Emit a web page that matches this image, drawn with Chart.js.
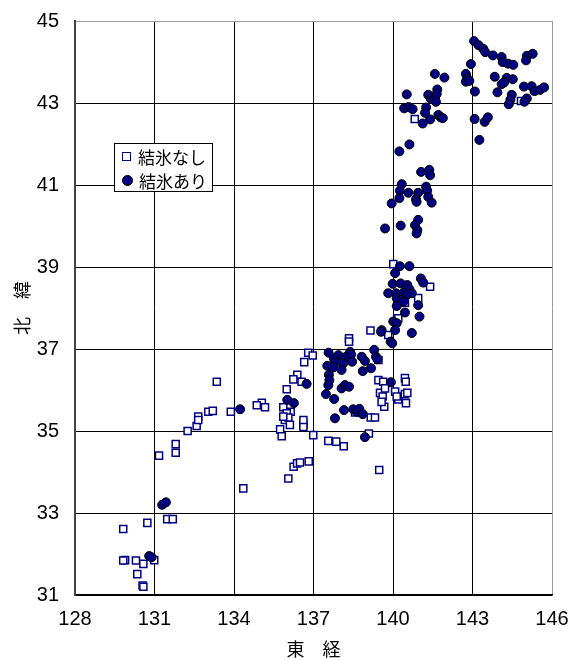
<!DOCTYPE html>
<html>
<head>
<meta charset="utf-8">
<script src="https://cdn.jsdelivr.net/npm/chart.js@4.4.1/dist/chart.umd.min.js"></script>
<style>
  body { margin: 0; background: #fff; }
  #wrap { position: relative; width: 570px; height: 660px; }
  #legend {
    position: absolute; left: 114px; top: 143px; width: 97px; height: 47px;
    border: 1px solid #000; background: #fff;
    font-family: "Noto Sans CJK JP", sans-serif; font-size: 17px; color: #000;
  }
  .row { display: flex; align-items: center; height: 24px; padding-left: 7px; }
  .sq { width: 7px; height: 7px; border: 1.5px solid #000080; background: #fff; margin-right: 7px; }
  .ci { width: 9px; height: 9px; border-radius: 50%; background: #000080; border: 1px solid #000; margin-right: 6px; }
</style>
</head>
<body>
<div id="wrap">
  <canvas id="ice-chart" width="570" height="660"></canvas>
  <div id="legend">
    <div class="row"><span class="sq"></span>結氷なし</div>
    <div class="row"><span class="ci"></span>結氷あり</div>
  </div>
</div>
<script>
// 結氷あり (iced) stations
const iceLon = [143.06,143.23,143.41,143.48,143.77,144.10,144.14,144.34,144.54,145.05,145.27,145.02,142.94,142.75,142.80,142.75,142.88,143.09,143.84,144.29,144.52,144.10,144.19,143.94,144.48,144.43,144.37,144.94,145.23,145.34,145.55,145.70,145.05,144.96,143.08,143.46,143.58,143.26,
  141.58,141.94,140.52,140.42,140.59,140.74,141.33,141.42,141.58,141.67,141.65,141.62,141.25,141.21,141.40,141.71,141.80,141.88,141.12,140.62,140.24,
  141.06,141.37,141.40,140.33,140.26,140.58,140.95,141.25,141.29,141.33,141.46,140.87,140.89,140.24,139.95,139.70,140.29,140.95,140.83,140.92,140.89,
  140.26,140.62,140.08,141.05,141.14,139.99,140.29,140.54,140.62,139.82,140.11,140.39,140.52,140.71,140.14,140.33,140.95,140.14,140.39,140.45,141.00,140.01,140.14,140.08,139.57,140.71,139.91,139.97,139.55,
  137.57,137.94,137.77,138.23,138.38,138.42,138.46,138.82,138.94,139.29,139.36,139.41,138.12,137.81,137.52,137.75,138.06,137.58,137.60,138.86,139.17,137.56,138.06,138.19,138.34,137.47,137.78,138.15,138.50,138.63,138.73,138.86,137.81,138.94,139.92,136.74,136.01,136.26,134.23,131.29,131.43,130.80,130.89];
const iceLat = [44.51,44.41,44.32,44.24,44.16,44.12,44.00,43.96,43.93,44.15,44.20,44.04,43.95,43.71,43.60,43.52,43.54,43.28,43.64,43.61,43.58,43.46,43.50,43.26,43.20,43.08,42.97,43.40,43.41,43.29,43.32,43.38,43.11,43.03,42.61,42.54,42.65,42.10,
  43.71,43.62,43.21,42.87,42.90,42.85,43.20,43.11,43.10,43.33,43.22,43.03,42.89,42.76,42.60,42.71,42.65,42.63,42.50,41.99,41.82,
  41.32,41.37,41.24,41.02,40.86,40.81,40.81,40.96,40.86,40.71,40.57,40.65,40.59,40.68,40.55,39.94,40.01,40.15,40.02,39.90,39.82,
  39.02,39.02,38.85,38.72,38.62,38.59,38.60,38.56,38.46,38.36,38.36,38.37,38.32,38.36,38.24,38.20,38.07,38.05,38.15,37.89,37.79,37.67,37.63,37.46,37.46,37.39,37.18,37.14,37.42,
  36.91,36.85,36.77,36.81,36.93,36.87,36.69,36.81,36.71,36.98,36.81,36.75,36.65,36.67,36.59,36.55,36.49,36.37,36.24,36.46,36.53,36.12,36.04,36.12,36.08,35.90,35.78,35.51,35.53,35.47,35.54,35.41,35.31,34.85,36.19,36.15,35.76,35.68,35.53,33.20,33.26,31.95,31.92];

// 結氷なし (not iced) stations
const noIceLon = [144.83,140.82,140.01,141.40,140.45,140.95,140.20,139.15,139.82,138.34,138.34,139.45,136.80,136.97,136.65,136.39,136.24,136.55,135.99,133.35,
  139.45,139.63,140.45,140.48,139.51,139.70,139.61,139.67,139.57,140.08,140.20,140.14,140.45,140.54,140.49,139.48,138.57,139.16,139.32,139.09,
  135.86,136.14,135.99,135.92,136.11,135.74,135.80,136.62,136.62,136.99,137.56,137.86,138.14,136.25,136.38,136.49,136.82,136.05,135.05,135.17,134.86,136.05,135.86,136.62,
  133.88,133.03,133.20,132.65,132.25,132.59,132.65,131.80,131.80,131.17,134.35,131.48,131.69,130.73,129.82,129.89,129.82,130.30,130.58,130.99,130.35,130.55,130.58];
const noIceLat = [43.05,42.61,39.07,38.52,38.13,38.24,37.75,37.45,37.34,37.26,37.18,36.73,36.91,36.84,36.68,36.37,36.26,36.20,36.02,36.20,
  36.24,36.20,36.29,36.20,35.93,36.04,35.84,35.59,35.71,35.96,35.77,35.84,35.90,35.93,35.68,34.05,35.45,35.33,35.33,34.94,
  35.58,35.47,35.43,35.27,35.15,35.04,34.87,35.16,35.10,34.90,34.76,34.74,34.63,34.13,34.21,34.23,34.26,33.84,35.69,35.58,35.63,35.33,35.35,35.27,
  35.47,35.47,35.49,35.35,35.00,35.12,35.27,34.68,34.47,34.40,33.60,32.85,32.85,32.76,32.61,31.85,31.84,31.84,31.76,31.85,31.51,31.23,31.20];

// axis ranges / ticks
const lonTicks = [128, 131, 134, 137, 140, 143, 146];
const latTicks = [31, 33, 35, 37, 39, 41, 43, 45];

const toPoints = (xs, ys) => xs.map((x, i) => ({ x: x, y: ys[i] }));

const ctx = document.getElementById('ice-chart').getContext('2d');
const iceChart = new Chart(ctx, {
  type: 'scatter',
  data: {
    datasets: [{
      label: '結氷あり',
      data: toPoints(iceLon, iceLat),
      pointStyle: 'circle',
      pointRadius: 4.5,
      pointHoverRadius: 4.5,
      backgroundColor: '#000080',
      borderColor: '#000000',
      borderWidth: 1,
      order: 1
    }, {
      label: '結氷なし',
      data: toPoints(noIceLon, noIceLat),
      pointStyle: 'rect',
      pointRadius: 5,
      pointHoverRadius: 5,
      backgroundColor: '#ffffff',
      borderColor: '#000080',
      borderWidth: 1.5,
      order: 2
    }]
  },
  options: {
    responsive: false,
    devicePixelRatio: 1,
    animation: false,
    layout: { padding: { top: 21, right: 18 } },
    plugins: {
      legend: { display: false },
      tooltip: { enabled: false }
    },
    scales: {
      x: {
        type: 'linear',
        min: lonTicks[0],
        max: lonTicks[lonTicks.length - 1],
        afterBuildTicks: s => { s.ticks = lonTicks.map(v => ({ value: v })); },
        afterFit: s => { s.height = 65; s.paddingLeft = 0; s.paddingRight = 0; },
        ticks: {
          color: '#000',
          padding: 12,
          font: { family: 'Liberation Sans, Arial, sans-serif', size: 20 }
        },
        grid: {
          drawTicks: false,
          color: c => (c.tick && c.tick.value === 146) ? '#999' : '#000',
          lineWidth: 1
        },
        border: { color: '#000', width: 1.5 },
        title: {
          display: true,
          text: '東　経',
          color: '#000',
          padding: 0,
          font: { family: 'Noto Sans CJK JP', size: 18 }
        }
      },
      y: {
        type: 'linear',
        min: latTicks[0],
        max: latTicks[latTicks.length - 1],
        afterBuildTicks: s => { s.ticks = latTicks.map(v => ({ value: v })); },
        afterFit: s => { s.width = 75; s.paddingTop = 0; s.paddingBottom = 0; },
        ticks: {
          color: '#000',
          padding: 16,
          font: { family: 'Liberation Sans, Arial, sans-serif', size: 20 }
        },
        grid: {
          drawTicks: false,
          color: c => (c.tick && c.tick.value === 45) ? '#999' : '#000',
          lineWidth: 1
        },
        border: { color: '#444', width: 2 },
        title: {
          display: true,
          text: '北　緯',
          color: '#000',
          padding: { top: 11, bottom: 0 },
          font: { family: 'Noto Sans CJK JP', size: 18 }
        }
      }
    }
  }
});
</script>
</body>
</html>
